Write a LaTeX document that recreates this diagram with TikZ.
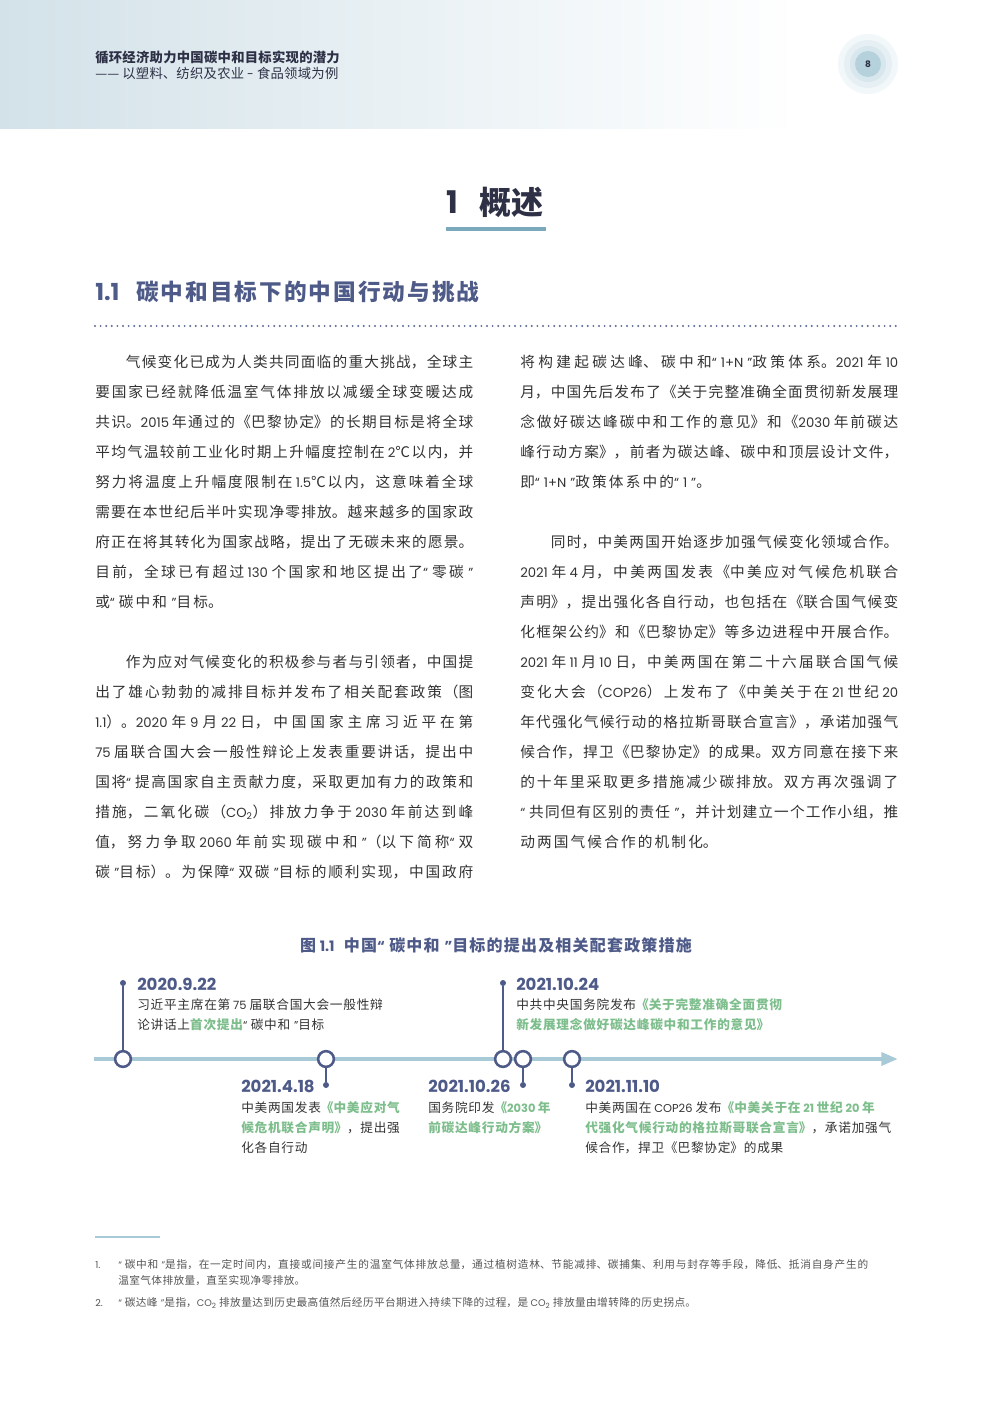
\documentclass[tikz,border=0pt]{standalone}
\usepackage{fontspec}
\setmainfont{Noto Sans CJK SC}
\newfontfamily\cjkf{Noto Sans CJK SC}
\newfontfamily\latf[Scale=0.9]{Poppins}
\usetikzlibrary{arrows.meta}
\tolerance=10000 \hbadness=10000 \hfuzz=50pt
\newskip\cjkgap \cjkgap=0pt
\newcount\cjkcc
\cjkcc="3400
\loop \XeTeXcharclass\cjkcc=1 \advance\cjkcc by 1 \ifnum\cjkcc<"A000 \repeat
\cjkcc="3000
\loop \XeTeXcharclass\cjkcc=3 \advance\cjkcc by 1 \ifnum\cjkcc<"3040 \repeat
\cjkcc="FF00
\loop \XeTeXcharclass\cjkcc=3 \advance\cjkcc by 1 \ifnum\cjkcc<"FF10 \repeat
\XeTeXcharclass`《=2
\XeTeXcharclass`〈=2
\XeTeXcharclass`「=2
\XeTeXcharclass`『=2
\XeTeXcharclass`【=2
\XeTeXcharclass`（=2
\XeTeXcharclass`℃=1
\XeTeXcharclass`—=1
\XeTeXcharclass`“=4
\XeTeXcharclass`”=5
\newcommand\qsp{\hskip 0.3em\relax}
\XeTeXinterchartokenstate=1
\XeTeXinterchartoks 0 1 {\cjkf}
\XeTeXinterchartoks 0 2 {\cjkf}
\XeTeXinterchartoks 0 3 {\cjkf}
\XeTeXinterchartoks 1 0 {\latf}
\XeTeXinterchartoks 2 0 {\latf}
\XeTeXinterchartoks 3 0 {\latf}
\XeTeXinterchartoks 4095 0 {\latf}
\XeTeXinterchartoks 4095 1 {\cjkf}
\XeTeXinterchartoks 4095 2 {\cjkf}
\XeTeXinterchartoks 4095 3 {\cjkf}
\XeTeXinterchartoks 1 1 {\hskip\cjkgap}
\XeTeXinterchartoks 1 2 {\hskip\cjkgap}
\XeTeXinterchartoks 3 1 {\hskip\cjkgap}
\XeTeXinterchartoks 3 2 {\hskip\cjkgap}
% opening quote
\XeTeXinterchartoks 1 4 {\latf}
\XeTeXinterchartoks 2 4 {\latf}
\XeTeXinterchartoks 3 4 {\latf}
\XeTeXinterchartoks 4095 4 {\latf}
\XeTeXinterchartoks 4 1 {\qsp\cjkf}
\XeTeXinterchartoks 4 2 {\qsp\cjkf}
\XeTeXinterchartoks 4 3 {\cjkf}
\XeTeXinterchartoks 4 0 {\qsp}
% closing quote
\XeTeXinterchartoks 1 5 {\qsp\latf}
\XeTeXinterchartoks 2 5 {\latf}
\XeTeXinterchartoks 3 5 {\qsp\latf}
\XeTeXinterchartoks 0 5 {\qsp}
\XeTeXinterchartoks 4095 5 {\latf}
\XeTeXinterchartoks 5 1 {\cjkf}
\XeTeXinterchartoks 5 2 {\cjkf}
\XeTeXinterchartoks 5 3 {\cjkf}
\definecolor{hdr}{HTML}{D3E2E9}
\definecolor{slate}{HTML}{4E5A88}
\definecolor{axisc}{HTML}{A8CAD6}
\definecolor{grn}{HTML}{7DBE8C}
\definecolor{txt}{HTML}{333333}
\definecolor{ttl}{HTML}{2E3046}
\definecolor{ulc}{HTML}{79A9BA}
\definecolor{fnc}{HTML}{555555}
\definecolor{dotc}{HTML}{5C6892}
\definecolor{pga}{HTML}{F2F7F9}
\definecolor{pgb}{HTML}{E6EFF3}
\definecolor{pgc}{HTML}{D8E7ED}
\definecolor{pgd}{HTML}{B4D1DC}
\newcommand\bodyset{\fontsize{11pt}{13pt}\selectfont\cjkgap=1.6pt plus 4pt minus 1.6pt\relax}
\newcommand\descset{\fontsize{9.5pt}{12pt}\selectfont\cjkgap=0.55pt plus 2pt minus 0.5pt\relax}
\newcommand\fnset{\fontsize{8pt}{10pt}\selectfont\cjkgap=0.3pt plus 3pt minus 0.3pt\relax}
\newcommand\hdbset{\fontsize{10pt}{12pt}\selectfont\bfseries\cjkgap=0.2pt\relax}
\newcommand\hdset{\fontsize{10pt}{12pt}\selectfont\cjkgap=0.2pt\relax}
\newcommand\secset{\fontsize{17pt}{20pt}\selectfont\bfseries\cjkgap=1.5pt\relax}
\newcommand\secnumset{\fontsize{19.5pt}{22pt}\selectfont\bfseries}
\newcommand\capset{\fontsize{12pt}{14pt}\selectfont\bfseries\cjkgap=0.9pt\relax}
\newcommand\hlg[1]{{\color{grn}\bfseries #1}}
\tikzset{
  bl/.style={anchor=west,inner sep=0pt,text=txt,font=\bodyset},
  hd/.style={anchor=west,inner sep=0pt,text=ttl},
  pgring/.style={circle,inner sep=0pt,fill=#1},
  evc/.style={circle,draw=slate,line width=1.9pt,fill=white,minimum size=11.8pt,inner sep=0pt},
  evd/.style={circle,fill=slate,minimum size=4.5pt,inner sep=0pt},
  stem/.style={draw=slate,line width=1.9pt},
  datel/.style={anchor=west,inner sep=0pt,text=slate,font=\fontsize{13.8pt}{15pt}\selectfont\bfseries},
  descl/.style={anchor=west,inner sep=0pt,text=txt,font=\descset},
  fnl/.style={anchor=west,inner sep=0pt,text=fnc,font=\fnset},
}
\newcommand\JL[3]{\node[bl] (#1) at (#2) {\makebox[283.5pt][s]{#3}};}
\newcommand\RL[3]{\node[bl] (#1) at (#2) {#3};}
\begin{document}
\begin{tikzpicture}[x=0.75pt,y=-0.75pt]
\useasboundingbox (0,0) rectangle (992,1403);
\fill[white] (0,0) rectangle (992,1403);
\shade[left color=hdr,right color=white] (0,0) rectangle (800,128);
% header
\node[hd,font=\hdbset] (htitle) at (95,57) {循环经济助力中国碳中和目标实现的潜力};
\node[hd,font=\hdset] (hsub) at (95,73) {—— 以塑料、纺织及农业 - 食品领域为例};
\node[pgring=pga,minimum size=45pt] (pgA) at (868,64) {};
\node[pgring=pgb,minimum size=36pt] (pgB) at (868,64) {};
\node[pgring=pgc,minimum size=27pt] (pgC) at (868,64) {};
\node[pgring=pgd,minimum size=19.5pt] (pgD) at (868,64) {};
\node[inner sep=0pt,text=ttl,font=\fontsize{7.5pt}{9pt}\selectfont\bfseries] (pgnum) at (868,64) {8};
% chapter title
\node[anchor=west,inner sep=0pt,text=ttl,font=\fontsize{26pt}{30pt}\selectfont\bfseries] (tnum) at (446,202) {1};
\node[anchor=west,inner sep=0pt,text=ttl,font=\fontsize{24pt}{28pt}\selectfont\bfseries] (ttxt) at (479,202) {概述};
\draw[ulc,line width=2.3pt] (446,229) -- (546,229);
% section heading
\node[anchor=west,inner sep=0pt,text=slate,font=\secnumset] (snum) at (95,292) {1.1};
\node[anchor=west,inner sep=0pt,text=slate,font=\secset] (stxt) at (136,292) {碳中和目标下的中国行动与挑战};
\draw[dotc,line width=1.6pt,line cap=round,dash pattern=on 0pt off 4.2pt] (95,326) -- (898,326);
% left column
\JL{a1}{95,362}{\hspace*{23pt}气候变化已成为人类共同面临的重大挑战，全球主}
\JL{a2}{95,392}{要国家已经就降低温室气体排放以减缓全球变暖达成}
\JL{a3}{95,422}{共识。2015 年通过的《巴黎协定》的长期目标是将全球}
\JL{a4}{95,452}{平均气温较前工业化时期上升幅度控制在 2℃以内，并}
\JL{a5}{95,482}{努力将温度上升幅度限制在 1.5℃以内，这意味着全球}
\JL{a6}{95,512}{需要在本世纪后半叶实现净零排放。越来越多的国家政}
\JL{a7}{95,542}{府正在将其转化为国家战略，提出了无碳未来的愿景。}
\JL{a8}{95,572}{目前，全球已有超过 130 个国家和地区提出了“零碳”}
\RL{a9}{95,602}{或“碳中和”目标。}
\JL{b1}{95,662}{\hspace*{23pt}作为应对气候变化的积极参与者与引领者，中国提}
\JL{b2}{95,692}{出了雄心勃勃的减排目标并发布了相关配套政策（图}
\JL{b3}{95,722}{1.1）。2020 年 9 月 22 日，中国国家主席习近平在第}
\JL{b4}{95,752}{75 届联合国大会一般性辩论上发表重要讲话，提出中}
\JL{b5}{95,782}{国将“提高国家自主贡献力度，采取更加有力的政策和}
\JL{b6}{95,812}{措施，二氧化碳（CO\textsubscript{2}）排放力争于 2030 年前达到峰}
\JL{b7}{95,842}{值，努力争取 2060 年前实现碳中和”（以下简称“双}
\JL{b8}{95,872}{碳”目标）。为保障“双碳”目标的顺利实现，中国政府}
% right column
\JL{c1}{520,362}{将构建起碳达峰、碳中和“1+N”政策体系。2021 年 10}
\JL{c2}{520,392}{月，中国先后发布了《关于完整准确全面贯彻新发展理}
\JL{c3}{520,422}{念做好碳达峰碳中和工作的意见》和《2030 年前碳达}
\JL{c4}{520,452}{峰行动方案》，前者为碳达峰、碳中和顶层设计文件，}
\RL{c5}{520,482}{即“1+N”政策体系中的“1”。}
\JL{e1}{520,542}{\hspace*{23pt}同时，中美两国开始逐步加强气候变化领域合作。}
\JL{e2}{520,572}{2021 年 4 月，中美两国发表《中美应对气候危机联合}
\JL{e3}{520,602}{声明》，提出强化各自行动，也包括在《联合国气候变}
\JL{e4}{520,632}{化框架公约》和《巴黎协定》等多边进程中开展合作。}
\JL{e5}{520,662}{2021 年 11 月 10 日，中美两国在第二十六届联合国气候}
\JL{e6}{520,692}{变化大会（COP26）上发布了《中美关于在 21 世纪 20}
\JL{e7}{520,722}{年代强化气候行动的格拉斯哥联合宣言》，承诺加强气}
\JL{e8}{520,752}{候合作，捍卫《巴黎协定》的成果。双方同意在接下来}
\JL{e9}{520,782}{的十年里采取更多措施减少碳排放。双方再次强调了}
\JL{e10}{520,812}{“共同但有区别的责任”，并计划建立一个工作小组，推}
\RL{e11}{520,842}{动两国气候合作的机制化。}
% figure caption
\node[inner sep=0pt,text=slate,font=\capset] (figcap) at (496,945) {图 1.1\hspace{7pt}中国“碳中和”目标的提出及相关配套政策措施};
% timeline axis
\coordinate (ax0) at (94,1059);
\coordinate (axtip) at (898,1059);
\draw[axisc,line width=3.2pt,-{Triangle[length=12.5pt,width=9.5pt]}] (ax0) -- (axtip);
% events
\node[evd] (d1) at (123,983) {};
\node[evd] (d2) at (326,1085) {};
\node[evd] (d3) at (503,983) {};
\node[evd] (d4) at (523,1085) {};
\node[evd] (d5) at (572,1085) {};
\coordinate (k1) at (123,1059);
\coordinate (k2) at (326,1059);
\coordinate (k3) at (503,1059);
\coordinate (k4) at (523,1059);
\coordinate (k5) at (572,1059);
\draw[stem] (d1) -- (k1);
\draw[stem] (d2) -- (k2);
\draw[stem] (d3) -- (k3);
\draw[stem] (d4) -- (k4);
\draw[stem] (d5) -- (k5);
\node[evc] (n1) at (k1) {};
\node[evc] (n2) at (k2) {};
\node[evc] (n3) at (k3) {};
\node[evc] (n4) at (k4) {};
\node[evc] (n5) at (k5) {};
% event texts
\node[datel] (t1) at (137,984) {2020.9.22};
\node[descl] (t1a) at (137,1005) {习近平主席在第 75 届联合国大会一般性辩};
\node[descl] (t1b) at (137,1025) {论讲话上\hlg{首次提出}“碳中和”目标};
\node[datel] (t2) at (241,1086) {2021.4.18};
\node[descl] (t2a) at (241,1108) {中美两国发表\hlg{《中美应对气}};
\node[descl] (t2b) at (241,1128) {\hlg{候危机联合声明》}，提出强};
\node[descl] (t2c) at (241,1148) {化各自行动};
\node[datel] (t3) at (516,984) {2021.10.24};
\node[descl] (t3a) at (516,1005) {中共中央国务院发布\hlg{《关于完整准确全面贯彻}};
\node[descl] (t3b) at (516,1025) {\hlg{新发展理念做好碳达峰碳中和工作的意见》}};
\node[datel] (t4) at (428,1086) {2021.10.26};
\node[descl] (t4a) at (428,1108) {国务院印发\hlg{《2030 年}};
\node[descl] (t4b) at (428,1128) {\hlg{前碳达峰行动方案》}};
\node[datel] (t5) at (585,1086) {2021.11.10};
\node[descl] (t5a) at (585,1108) {中美两国在 COP26 发布\hlg{《中美关于在 21 世纪 20 年}};
\node[descl] (t5b) at (585,1128) {\hlg{代强化气候行动的格拉斯哥联合宣言》}，承诺加强气};
\node[descl] (t5c) at (585,1148) {候合作，捍卫《巴黎协定》的成果};
% footnotes
\draw[axisc,line width=0.8pt] (95,1237) -- (160,1237);
\node[fnl] (f1n) at (95,1265) {1.};
\node[fnl] (f1a) at (118,1265) {\makebox[562.5pt][s]{“碳中和”是指，在一定时间内，直接或间接产生的温室气体排放总量，通过植树造林、节能减排、碳捕集、利用与封存等手段，降低、抵消自身产生的}};
\node[fnl] (f1b) at (118,1281) {温室气体排放量，直至实现净零排放。};
\node[fnl] (f2n) at (95,1303) {2.};
\node[fnl] (f2a) at (118,1303) {“碳达峰”是指，CO\textsubscript{2} 排放量达到历史最高值然后经历平台期进入持续下降的过程，是 CO\textsubscript{2} 排放量由增转降的历史拐点。};
\end{tikzpicture}
\end{document}
